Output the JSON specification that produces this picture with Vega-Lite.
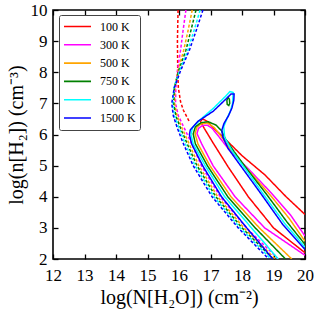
{
"$schema": "https://vega.github.io/schema/vega-lite/v6.json",
"width": 252, "height": 249,
"autosize": "none",
"padding": {"left": 53, "top": 10, "right": 11, "bottom": 55},
"config": {
  "view": {"stroke": "black", "strokeWidth": 1.6},
  "font": "Liberation Serif",
  "axis": {"grid": false, "domain": false, "tickColor": "black", "tickSize": -5, "tickWidth": 1.3, "labelFlush": false, "labelFontSize": 17, "labelColor": "black", "labelFont": "Liberation Serif", "titleFont": "Liberation Serif", "titleFontSize": 20, "titleFontWeight": "normal", "titleColor": "black"}
},
"datasets": {
"curves": [
{"id":"r_d","T":"100 K","s":"dashed","i":1,"x":15.97,"y":10},
{"id":"r_d","T":"100 K","s":"dashed","i":2,"x":15.95,"y":9.0},
{"id":"r_d","T":"100 K","s":"dashed","i":3,"x":15.96,"y":8.0},
{"id":"r_d","T":"100 K","s":"dashed","i":4,"x":15.98,"y":7.5},
{"id":"r_d","T":"100 K","s":"dashed","i":5,"x":16.05,"y":7.05},
{"id":"r_d","T":"100 K","s":"dashed","i":6,"x":16.14,"y":6.78},
{"id":"r_d","T":"100 K","s":"dashed","i":7,"x":16.33,"y":6.41},

{"id":"m_d","T":"300 K","s":"dashed","i":1,"x":16.22,"y":10},
{"id":"m_d","T":"300 K","s":"dashed","i":2,"x":16.13,"y":9.35},
{"id":"m_d","T":"300 K","s":"dashed","i":3,"x":16.05,"y":8.71},
{"id":"m_d","T":"300 K","s":"dashed","i":4,"x":15.95,"y":8.05},
{"id":"m_d","T":"300 K","s":"dashed","i":5,"x":15.9,"y":7.5},
{"id":"m_d","T":"300 K","s":"dashed","i":6,"x":15.89,"y":7.0},
{"id":"m_d","T":"300 K","s":"dashed","i":7,"x":15.98,"y":6.6},
{"id":"m_d","T":"300 K","s":"dashed","i":8,"x":16.17,"y":6.2},
{"id":"m_d","T":"300 K","s":"dashed","i":9,"x":16.38,"y":5.75},
{"id":"m_d","T":"300 K","s":"dashed","i":10,"x":16.71,"y":5.0},
{"id":"m_d","T":"300 K","s":"dashed","i":11,"x":17.31,"y":4.0},
{"id":"m_d","T":"300 K","s":"dashed","i":12,"x":18.14,"y":3.0},
{"id":"m_d","T":"300 K","s":"dashed","i":13,"x":19.15,"y":2.0},

{"id":"o_d","T":"500 K","s":"dashed","i":1,"x":16.42,"y":10},
{"id":"o_d","T":"500 K","s":"dashed","i":2,"x":16.29,"y":9.35},
{"id":"o_d","T":"500 K","s":"dashed","i":3,"x":16.15,"y":8.71},
{"id":"o_d","T":"500 K","s":"dashed","i":4,"x":15.97,"y":8.05},
{"id":"o_d","T":"500 K","s":"dashed","i":5,"x":15.87,"y":7.5},
{"id":"o_d","T":"500 K","s":"dashed","i":6,"x":15.86,"y":7.0},
{"id":"o_d","T":"500 K","s":"dashed","i":7,"x":15.94,"y":6.6},
{"id":"o_d","T":"500 K","s":"dashed","i":8,"x":16.1,"y":6.2},
{"id":"o_d","T":"500 K","s":"dashed","i":9,"x":16.3,"y":5.75},
{"id":"o_d","T":"500 K","s":"dashed","i":10,"x":16.63,"y":5.0},
{"id":"o_d","T":"500 K","s":"dashed","i":11,"x":17.23,"y":4.0},
{"id":"o_d","T":"500 K","s":"dashed","i":12,"x":18.06,"y":3.0},
{"id":"o_d","T":"500 K","s":"dashed","i":13,"x":19.06,"y":2.0},

{"id":"g_d","T":"750 K","s":"dashed","i":1,"x":16.54,"y":10},
{"id":"g_d","T":"750 K","s":"dashed","i":2,"x":16.38,"y":9.35},
{"id":"g_d","T":"750 K","s":"dashed","i":3,"x":16.22,"y":8.71},
{"id":"g_d","T":"750 K","s":"dashed","i":4,"x":15.99,"y":8.05},
{"id":"g_d","T":"750 K","s":"dashed","i":5,"x":15.85,"y":7.5},
{"id":"g_d","T":"750 K","s":"dashed","i":6,"x":15.83,"y":7.0},
{"id":"g_d","T":"750 K","s":"dashed","i":7,"x":15.9,"y":6.6},
{"id":"g_d","T":"750 K","s":"dashed","i":8,"x":16.05,"y":6.2},
{"id":"g_d","T":"750 K","s":"dashed","i":9,"x":16.24,"y":5.75},
{"id":"g_d","T":"750 K","s":"dashed","i":10,"x":16.57,"y":5.0},
{"id":"g_d","T":"750 K","s":"dashed","i":11,"x":17.17,"y":4.0},
{"id":"g_d","T":"750 K","s":"dashed","i":12,"x":18.0,"y":3.0},
{"id":"g_d","T":"750 K","s":"dashed","i":13,"x":18.99,"y":2.0},

{"id":"c_d","T":"1000 K","s":"dashed","i":1,"x":16.67,"y":10},
{"id":"c_d","T":"1000 K","s":"dashed","i":2,"x":16.48,"y":9.35},
{"id":"c_d","T":"1000 K","s":"dashed","i":3,"x":16.28,"y":8.71},
{"id":"c_d","T":"1000 K","s":"dashed","i":4,"x":16.02,"y":8.05},
{"id":"c_d","T":"1000 K","s":"dashed","i":5,"x":15.84,"y":7.5},
{"id":"c_d","T":"1000 K","s":"dashed","i":6,"x":15.8,"y":7.0},
{"id":"c_d","T":"1000 K","s":"dashed","i":7,"x":15.86,"y":6.6},
{"id":"c_d","T":"1000 K","s":"dashed","i":8,"x":16.0,"y":6.2},
{"id":"c_d","T":"1000 K","s":"dashed","i":9,"x":16.18,"y":5.75},
{"id":"c_d","T":"1000 K","s":"dashed","i":10,"x":16.51,"y":5.0},
{"id":"c_d","T":"1000 K","s":"dashed","i":11,"x":17.11,"y":4.0},
{"id":"c_d","T":"1000 K","s":"dashed","i":12,"x":17.94,"y":3.0},
{"id":"c_d","T":"1000 K","s":"dashed","i":13,"x":18.92,"y":2.0},

{"id":"b_d","T":"1500 K","s":"dashed","i":1,"x":16.76,"y":10},
{"id":"b_d","T":"1500 K","s":"dashed","i":2,"x":16.55,"y":9.35},
{"id":"b_d","T":"1500 K","s":"dashed","i":3,"x":16.33,"y":8.71},
{"id":"b_d","T":"1500 K","s":"dashed","i":4,"x":16.05,"y":8.05},
{"id":"b_d","T":"1500 K","s":"dashed","i":5,"x":15.85,"y":7.5},
{"id":"b_d","T":"1500 K","s":"dashed","i":6,"x":15.77,"y":7.0},
{"id":"b_d","T":"1500 K","s":"dashed","i":7,"x":15.82,"y":6.6},
{"id":"b_d","T":"1500 K","s":"dashed","i":8,"x":15.95,"y":6.2},
{"id":"b_d","T":"1500 K","s":"dashed","i":9,"x":16.12,"y":5.75},
{"id":"b_d","T":"1500 K","s":"dashed","i":10,"x":16.45,"y":5.0},
{"id":"b_d","T":"1500 K","s":"dashed","i":11,"x":17.05,"y":4.0},
{"id":"b_d","T":"1500 K","s":"dashed","i":12,"x":17.88,"y":3.0},
{"id":"b_d","T":"1500 K","s":"dashed","i":13,"x":18.85,"y":2.0},

{"id":"r_s","T":"100 K","s":"solid","i":1,"x":20,"y":2.2},
{"id":"r_s","T":"100 K","s":"solid","i":2,"x":19.0,"y":3.0},
{"id":"r_s","T":"100 K","s":"solid","i":3,"x":18.2,"y":4.0},
{"id":"r_s","T":"100 K","s":"solid","i":4,"x":17.56,"y":4.96},
{"id":"r_s","T":"100 K","s":"solid","i":5,"x":17.1,"y":5.7},
{"id":"r_s","T":"100 K","s":"solid","i":6,"x":16.8,"y":6.2},
{"id":"r_s","T":"100 K","s":"solid","i":7,"x":16.68,"y":6.42},
{"id":"r_s","T":"100 K","s":"solid","i":8,"x":16.75,"y":6.5},
{"id":"r_s","T":"100 K","s":"solid","i":9,"x":16.9,"y":6.42},
{"id":"r_s","T":"100 K","s":"solid","i":10,"x":17.1,"y":6.2},
{"id":"r_s","T":"100 K","s":"solid","i":11,"x":17.39,"y":5.93},
{"id":"r_s","T":"100 K","s":"solid","i":12,"x":18.0,"y":5.32},
{"id":"r_s","T":"100 K","s":"solid","i":13,"x":18.73,"y":4.7},
{"id":"r_s","T":"100 K","s":"solid","i":14,"x":19.4,"y":4.0},
{"id":"r_s","T":"100 K","s":"solid","i":15,"x":20,"y":3.43},

{"id":"m_s","T":"300 K","s":"solid","i":1,"x":20,"y":2.12},
{"id":"m_s","T":"300 K","s":"solid","i":2,"x":18.72,"y":3.0},
{"id":"m_s","T":"300 K","s":"solid","i":3,"x":17.78,"y":4.0},
{"id":"m_s","T":"300 K","s":"solid","i":4,"x":17.08,"y":5.0},
{"id":"m_s","T":"300 K","s":"solid","i":5,"x":16.72,"y":5.7},
{"id":"m_s","T":"300 K","s":"solid","i":6,"x":16.57,"y":6.03},
{"id":"m_s","T":"300 K","s":"solid","i":7,"x":16.62,"y":6.2},
{"id":"m_s","T":"300 K","s":"solid","i":8,"x":16.75,"y":6.29},
{"id":"m_s","T":"300 K","s":"solid","i":9,"x":16.9,"y":6.3},
{"id":"m_s","T":"300 K","s":"solid","i":10,"x":17.05,"y":6.2},
{"id":"m_s","T":"300 K","s":"solid","i":11,"x":17.25,"y":5.95},
{"id":"m_s","T":"300 K","s":"solid","i":12,"x":17.6,"y":5.5},
{"id":"m_s","T":"300 K","s":"solid","i":13,"x":18.2,"y":4.9},
{"id":"m_s","T":"300 K","s":"solid","i":14,"x":18.95,"y":4.1},
{"id":"m_s","T":"300 K","s":"solid","i":15,"x":19.55,"y":3.4},
{"id":"m_s","T":"300 K","s":"solid","i":16,"x":20,"y":2.74},

{"id":"o_s","T":"500 K","s":"solid","i":1,"x":19.58,"y":2},
{"id":"o_s","T":"500 K","s":"solid","i":2,"x":18.55,"y":3},
{"id":"o_s","T":"500 K","s":"solid","i":3,"x":17.65,"y":4},
{"id":"o_s","T":"500 K","s":"solid","i":4,"x":16.98,"y":5},
{"id":"o_s","T":"500 K","s":"solid","i":5,"x":16.6,"y":5.7},
{"id":"o_s","T":"500 K","s":"solid","i":6,"x":16.51,"y":6.03},
{"id":"o_s","T":"500 K","s":"solid","i":7,"x":16.57,"y":6.24},
{"id":"o_s","T":"500 K","s":"solid","i":8,"x":16.7,"y":6.34},
{"id":"o_s","T":"500 K","s":"solid","i":9,"x":16.9,"y":6.37},
{"id":"o_s","T":"500 K","s":"solid","i":10,"x":17.12,"y":6.22},
{"id":"o_s","T":"500 K","s":"solid","i":11,"x":17.33,"y":5.95},
{"id":"o_s","T":"500 K","s":"solid","i":12,"x":17.65,"y":5.5},
{"id":"o_s","T":"500 K","s":"solid","i":13,"x":18.2,"y":4.85},
{"id":"o_s","T":"500 K","s":"solid","i":14,"x":18.9,"y":4.05},
{"id":"o_s","T":"500 K","s":"solid","i":15,"x":19.5,"y":3.3},
{"id":"o_s","T":"500 K","s":"solid","i":16,"x":20,"y":2.57},

{"id":"g_s","T":"750 K","s":"solid","i":1,"x":19.38,"y":2},
{"id":"g_s","T":"750 K","s":"solid","i":2,"x":18.42,"y":3},
{"id":"g_s","T":"750 K","s":"solid","i":3,"x":17.55,"y":4},
{"id":"g_s","T":"750 K","s":"solid","i":4,"x":16.9,"y":5},
{"id":"g_s","T":"750 K","s":"solid","i":5,"x":16.52,"y":5.7},
{"id":"g_s","T":"750 K","s":"solid","i":6,"x":16.45,"y":6.02},
{"id":"g_s","T":"750 K","s":"solid","i":7,"x":16.52,"y":6.25},
{"id":"g_s","T":"750 K","s":"solid","i":8,"x":16.7,"y":6.38},
{"id":"g_s","T":"750 K","s":"solid","i":9,"x":16.93,"y":6.41},
{"id":"g_s","T":"750 K","s":"solid","i":10,"x":17.18,"y":6.3},
{"id":"g_s","T":"750 K","s":"solid","i":11,"x":17.35,"y":6.12},
{"id":"g_s","T":"750 K","s":"solid","i":12,"x":17.48,"y":5.85},
{"id":"g_s","T":"750 K","s":"solid","i":13,"x":17.75,"y":5.45},
{"id":"g_s","T":"750 K","s":"solid","i":14,"x":18.15,"y":4.9},
{"id":"g_s","T":"750 K","s":"solid","i":15,"x":18.8,"y":4.05},
{"id":"g_s","T":"750 K","s":"solid","i":16,"x":19.42,"y":3.2},
{"id":"g_s","T":"750 K","s":"solid","i":17,"x":20,"y":2.47},

{"id":"g_l","T":"750 K","s":"solid","i":1,"x":17.56,"y":7.2},
{"id":"g_l","T":"750 K","s":"solid","i":2,"x":17.6,"y":7.13},
{"id":"g_l","T":"750 K","s":"solid","i":3,"x":17.61,"y":7.0},
{"id":"g_l","T":"750 K","s":"solid","i":4,"x":17.58,"y":6.93},
{"id":"g_l","T":"750 K","s":"solid","i":5,"x":17.53,"y":6.97},
{"id":"g_l","T":"750 K","s":"solid","i":6,"x":17.52,"y":7.1},
{"id":"g_l","T":"750 K","s":"solid","i":7,"x":17.56,"y":7.2},

{"id":"c_s","T":"1000 K","s":"solid","i":1,"x":19.15,"y":2},
{"id":"c_s","T":"1000 K","s":"solid","i":2,"x":18.3,"y":3},
{"id":"c_s","T":"1000 K","s":"solid","i":3,"x":17.45,"y":4},
{"id":"c_s","T":"1000 K","s":"solid","i":4,"x":16.83,"y":5},
{"id":"c_s","T":"1000 K","s":"solid","i":5,"x":16.45,"y":5.7},
{"id":"c_s","T":"1000 K","s":"solid","i":6,"x":16.38,"y":6.0},
{"id":"c_s","T":"1000 K","s":"solid","i":7,"x":16.43,"y":6.22},
{"id":"c_s","T":"1000 K","s":"solid","i":8,"x":16.7,"y":6.5},
{"id":"c_s","T":"1000 K","s":"solid","i":9,"x":17.1,"y":6.85},
{"id":"c_s","T":"1000 K","s":"solid","i":10,"x":17.45,"y":7.2},
{"id":"c_s","T":"1000 K","s":"solid","i":11,"x":17.62,"y":7.38},
{"id":"c_s","T":"1000 K","s":"solid","i":12,"x":17.72,"y":7.35},
{"id":"c_s","T":"1000 K","s":"solid","i":13,"x":17.7,"y":7.0},
{"id":"c_s","T":"1000 K","s":"solid","i":14,"x":17.63,"y":6.75},
{"id":"c_s","T":"1000 K","s":"solid","i":15,"x":17.55,"y":6.58},
{"id":"c_s","T":"1000 K","s":"solid","i":16,"x":17.42,"y":6.25},
{"id":"c_s","T":"1000 K","s":"solid","i":17,"x":17.45,"y":5.9},
{"id":"c_s","T":"1000 K","s":"solid","i":18,"x":17.7,"y":5.45},
{"id":"c_s","T":"1000 K","s":"solid","i":19,"x":18.1,"y":4.9},
{"id":"c_s","T":"1000 K","s":"solid","i":20,"x":18.7,"y":4.05},
{"id":"c_s","T":"1000 K","s":"solid","i":21,"x":19.35,"y":3.15},
{"id":"c_s","T":"1000 K","s":"solid","i":22,"x":20,"y":2.38},

{"id":"b_s","T":"1500 K","s":"solid","i":1,"x":18.98,"y":2},
{"id":"b_s","T":"1500 K","s":"solid","i":2,"x":18.15,"y":3},
{"id":"b_s","T":"1500 K","s":"solid","i":3,"x":17.35,"y":4},
{"id":"b_s","T":"1500 K","s":"solid","i":4,"x":16.75,"y":5},
{"id":"b_s","T":"1500 K","s":"solid","i":5,"x":16.4,"y":5.7},
{"id":"b_s","T":"1500 K","s":"solid","i":6,"x":16.33,"y":6.0},
{"id":"b_s","T":"1500 K","s":"solid","i":7,"x":16.36,"y":6.15},
{"id":"b_s","T":"1500 K","s":"solid","i":8,"x":16.6,"y":6.42},
{"id":"b_s","T":"1500 K","s":"solid","i":9,"x":17.09,"y":6.75},
{"id":"b_s","T":"1500 K","s":"solid","i":10,"x":17.45,"y":7.1},
{"id":"b_s","T":"1500 K","s":"solid","i":11,"x":17.65,"y":7.3},
{"id":"b_s","T":"1500 K","s":"solid","i":12,"x":17.75,"y":7.3},
{"id":"b_s","T":"1500 K","s":"solid","i":13,"x":17.74,"y":7.1},
{"id":"b_s","T":"1500 K","s":"solid","i":14,"x":17.68,"y":6.85},
{"id":"b_s","T":"1500 K","s":"solid","i":15,"x":17.57,"y":6.6},
{"id":"b_s","T":"1500 K","s":"solid","i":16,"x":17.43,"y":6.36},
{"id":"b_s","T":"1500 K","s":"solid","i":17,"x":17.36,"y":6.14},
{"id":"b_s","T":"1500 K","s":"solid","i":18,"x":17.39,"y":5.92},
{"id":"b_s","T":"1500 K","s":"solid","i":19,"x":17.56,"y":5.55},
{"id":"b_s","T":"1500 K","s":"solid","i":20,"x":17.94,"y":5.02},
{"id":"b_s","T":"1500 K","s":"solid","i":21,"x":18.6,"y":4.1},
{"id":"b_s","T":"1500 K","s":"solid","i":22,"x":19.3,"y":3.1},
{"id":"b_s","T":"1500 K","s":"solid","i":23,"x":20,"y":2.31}
]
},
"layer": [
  {
    "data": {"name": "curves"},
    "mark": {"type": "line", "strokeWidth": 1.5, "clip": true},
    "encoding": {
      "x": {"field": "x", "type": "quantitative", "scale": {"domain": [12, 20], "nice": false},
            "axis": {"orient": "bottom", "values": [12,13,14,15,16,17,18,19,20], "labelPadding": 13, "title": "log(N[H₂O]) (cm⁻²)", "titlePadding": 4}},
      "y": {"field": "y", "type": "quantitative", "scale": {"domain": [2, 10], "nice": false},
            "axis": {"orient": "left", "values": [2,3,4,5,6,7,8,9,10], "labelPadding": 11, "title": "log(n[H₂]) (cm⁻³)", "titlePadding": 4}},
      "color": {"field": "T", "type": "nominal",
        "scale": {"domain": ["100 K","300 K","500 K","750 K","1000 K","1500 K"], "range": ["#ff0000","#ff00ff","#ffa500","#008000","#00ffff","#0000ff"]},
        "legend": {"title": null, "orient": "none", "legendX": 6, "legendY": 5, "symbolType": "stroke", "symbolSize": 729, "symbolStrokeWidth": 1.6, "clipHeight": 15, "rowPadding": 3.3, "labelFontSize": 12, "labelFont": "Liberation Serif", "labelColor": "black", "labelOffset": 8, "padding": 4, "strokeColor": "#444", "fillColor": "white", "cornerRadius": 2}},
      "strokeDash": {"field": "s", "type": "nominal", "scale": {"domain": ["solid","dashed"], "range": [[1,0],[3,2]]}, "legend": null},
      "detail": {"field": "id"},
      "order": {"field": "i", "type": "quantitative"}
    }
  },
  {
    "data": {"name": "curves"},
    "mark": {"type": "point", "opacity": 0},
    "encoding": {
      "x": {"field": "x", "type": "quantitative", "scale": {"domain": [12, 20], "nice": false},
            "axis": {"orient": "top", "values": [12,13,14,15,16,17,18,19,20], "labels": false, "title": null}},
      "y": {"field": "y", "type": "quantitative", "scale": {"domain": [2, 10], "nice": false},
            "axis": {"orient": "right", "values": [2,3,4,5,6,7,8,9,10], "labels": false, "title": null}}
    }
  }
],
"resolve": {"axis": {"x": "independent", "y": "independent"}}
}
